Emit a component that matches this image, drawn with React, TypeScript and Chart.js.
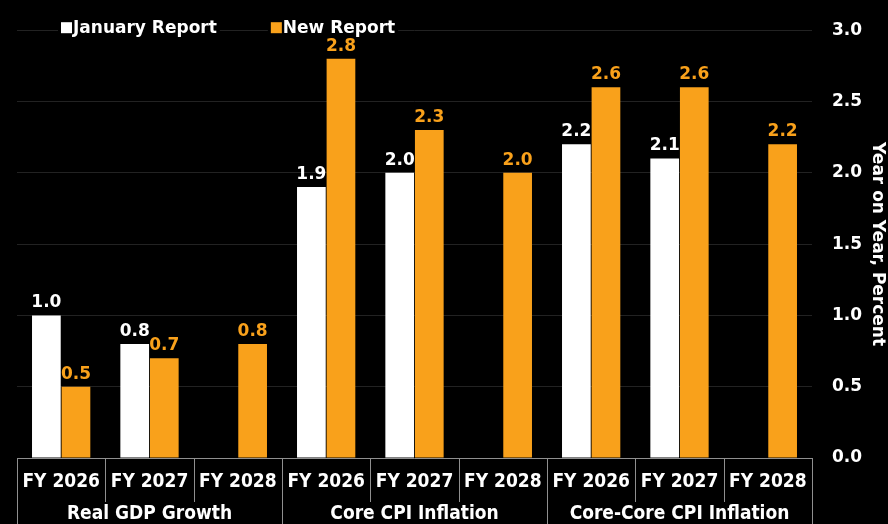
import { useEffect, useRef } from "react";
import { Chart, registerables } from "chart.js";

Chart.register(...registerables);

const periods = ["FY 2026", "FY 2027", "FY 2028", "FY 2026", "FY 2027", "FY 2028", "FY 2026", "FY 2027", "FY 2028"];
const groups = ["Real GDP Growth", "Core CPI Inflation", "Core-Core CPI Inflation"];
const januaryReport: (number | null)[] = [1.0, 0.8, null, 1.9, 2.0, null, 2.2, 2.1, null];
const newReport: (number | null)[] = [0.5, 0.7, 0.8, 2.8, 2.3, 2.0, 2.6, 2.6, 2.2];
const seriesNames = ["January Report", "New Report"];
const yMin = 0;
const yMax = 3;
const yStep = 0.5;
const yTitle = "Year on Year, Percent";

const WHITE = "#FFFFFF";
const ORANGE = "#F9A11B";
const BG = "#000000";
const GRID = "#222222";
const SEP = "#8f8f8f";
const FONT = "'DejaVu Sans', sans-serif";
const COND = "'DejaVu Sans Condensed', 'DejaVu Sans', sans-serif";

const bgPlugin = {
  id: "bg",
  beforeDraw(chart: any) {
    const { ctx, width, height } = chart;
    ctx.save();
    ctx.fillStyle = BG;
    ctx.fillRect(0, 0, width, height);
    ctx.restore();
  },
};

const labelsPlugin = {
  id: "valueLabels",
  afterDatasetsDraw(chart: any) {
    const { ctx } = chart;
    ctx.save();
    ctx.font = `bold 17px ${FONT}`;
    ctx.textAlign = "center";
    ctx.textBaseline = "bottom";
    chart.data.datasets.forEach((ds: any, di: number) => {
      const meta = chart.getDatasetMeta(di);
      meta.data.forEach((el: any, i: number) => {
        const v = ds.data[i];
        if (v === null || v === undefined) return;
        ctx.fillStyle = ds.backgroundColor;
        ctx.fillText(Number(v).toFixed(1), el.x, el.y - 4);
      });
    });
    ctx.restore();
  },
};

const axisPlugin = {
  id: "groupAxis",
  afterDraw(chart: any) {
    const { ctx, chartArea, height } = chart;
    const xs = chart.scales.x;
    const step = xs.getPixelForValue(1) - xs.getPixelForValue(0);
    const half = step / 2;
    const top = chartArea.bottom;
    const row1 = top + 44;
    ctx.save();
    ctx.strokeStyle = SEP;
    ctx.lineWidth = 1;
    ctx.beginPath();
    ctx.moveTo(chartArea.left, top + 0.5);
    ctx.lineTo(xs.getPixelForValue(periods.length - 1) + half, top + 0.5);
    ctx.stroke();
    for (let i = 0; i <= periods.length; i++) {
      const x = Math.round(xs.getPixelForValue(i) - half) + 0.5;
      const full = i % 3 === 0;
      ctx.beginPath();
      ctx.moveTo(x, top);
      ctx.lineTo(x, full ? height : row1);
      ctx.stroke();
    }
    ctx.fillStyle = WHITE;
    ctx.textAlign = "center";
    ctx.textBaseline = "middle";
    ctx.font = `bold 19px ${COND}`;
    periods.forEach((p, i) => {
      ctx.fillText(p, xs.getPixelForValue(i), top + 24);
    });
    groups.forEach((g, gi) => {
      const c = (xs.getPixelForValue(gi * 3) + xs.getPixelForValue(gi * 3 + 2)) / 2;
      ctx.fillText(g, c, top + 56);
    });

    // legend
    ctx.font = `bold 17px ${FONT}`;
    ctx.textBaseline = "middle";
    ctx.textAlign = "left";
    const ly = chartArea.top - 3;
    let lx = chartArea.left + 44;
    const colors = [WHITE, ORANGE];
    seriesNames.forEach((name, i) => {
      const w = ctx.measureText(name).width;
      ctx.fillStyle = BG;
      ctx.fillRect(lx - 3, ly - 10, w + 18, 20);
      ctx.fillStyle = colors[i];
      ctx.fillRect(lx, ly - 5, 11, 11);
      ctx.fillStyle = WHITE;
      ctx.fillText(name, lx + 12, ly + 1);
      lx += 12 + w + 54;
    });
    ctx.restore();
  },
};

export default function App() {
  const ref = useRef<HTMLCanvasElement | null>(null);
  useEffect(() => {
    document.body.style.margin = "0";
    const canvas = ref.current;
    if (!canvas) return;
    const chart = new Chart(canvas, {
      type: "bar",
      data: {
        labels: periods,
        datasets: [
          { label: seriesNames[0], data: januaryReport, backgroundColor: WHITE, categoryPercentage: 0.67, barPercentage: 0.97 },
          { label: seriesNames[1], data: newReport, backgroundColor: ORANGE, categoryPercentage: 0.67, barPercentage: 0.97 },
        ],
      },
      options: {
        responsive: false,
        animation: false,
        devicePixelRatio: 1,
        layout: { padding: { left: 17, top: 30, right: 0, bottom: 0 } },
        plugins: { legend: { display: false }, tooltip: { enabled: false } },
        scales: {
          x: {
            ticks: { display: false },
            grid: { display: false },
            border: { display: false },
            afterFit: (s: any) => { s.height = 66; },
          },
          y: {
            position: "right",
            min: yMin,
            max: yMax,
            ticks: {
              stepSize: yStep,
              color: WHITE,
              padding: 20,
              font: { family: FONT, size: 17, weight: "bold" },
              callback: (v: any) => Number(v).toFixed(1),
            },
            grid: { color: GRID, drawTicks: false },
            border: { display: false },
            title: {
              display: true,
              text: yTitle,
              color: WHITE,
              padding: 0,
              font: { family: FONT, size: 17, weight: "bold" },
            },
            afterFit: (s: any) => { s.width = 76; },
          },
        },
      },
      plugins: [bgPlugin, labelsPlugin, axisPlugin],
    } as any);
    return () => chart.destroy();
  }, []);
  return (
    <div style={{ width: 888, height: 524, background: BG }}>
      <canvas ref={ref} width={888} height={524} style={{ display: "block" }} />
    </div>
  );
}
